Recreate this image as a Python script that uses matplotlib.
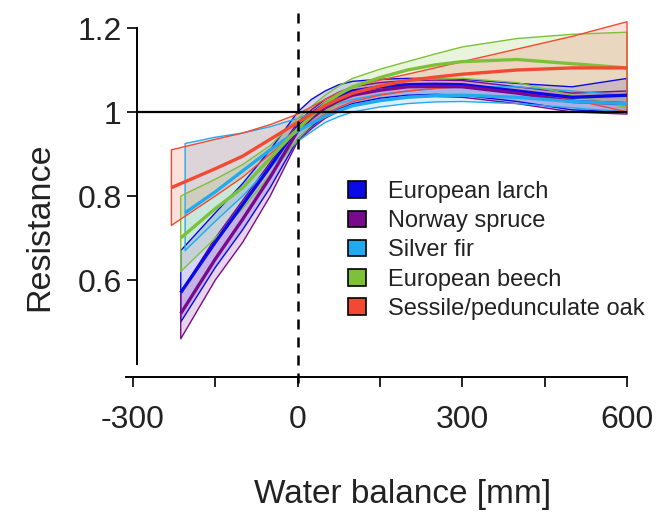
import numpy as np
import matplotlib
matplotlib.use('Agg')
import matplotlib.pyplot as plt
import matplotlib.patches as mpl_patches

plt.rcParams['font.family'] = ['Liberation Sans', 'DejaVu Sans']

species = ['European larch', 'Norway spruce', 'Silver fir', 'European beech',
           'Sessile/pedunculate oak']
colors = ['#0a0ae6', '#7a0a8c', '#22aaee', '#7dc13a', '#f24a32']

# water balance [mm] and resistance (lower / mean / upper) per species
wb_larch = [-213, -150, -100, -50, 0, 25, 50, 75, 100, 150, 200, 250, 300, 400, 500, 600]
larch_lo = [0.50, 0.63, 0.72, 0.82, 0.935, 0.965, 0.99, 1.007, 1.02, 1.033, 1.04, 1.042, 1.04, 1.025, 1.005, 1.00]
larch_mid = [0.57, 0.69, 0.78, 0.87, 0.965, 0.995, 1.02, 1.038, 1.05, 1.06, 1.065, 1.066, 1.065, 1.05, 1.035, 1.04]
larch_hi = [0.67, 0.76, 0.83, 0.91, 1.00, 1.03, 1.05, 1.065, 1.073, 1.078, 1.08, 1.08, 1.078, 1.068, 1.06, 1.08]

wb_spruce = [-213, -150, -100, -50, 0, 25, 50, 75, 100, 150, 200, 250, 300, 400, 500, 600]
spruce_lo = [0.46, 0.60, 0.69, 0.80, 0.93, 0.96, 0.985, 1.002, 1.015, 1.028, 1.035, 1.037, 1.035, 1.02, 1.00, 0.995]
spruce_mid = [0.52, 0.65, 0.745, 0.845, 0.955, 0.985, 1.01, 1.027, 1.04, 1.052, 1.06, 1.061, 1.06, 1.045, 1.025, 1.02]
spruce_hi = [0.57, 0.70, 0.79, 0.88, 0.975, 1.005, 1.03, 1.047, 1.06, 1.07, 1.075, 1.076, 1.075, 1.06, 1.045, 1.05]

wb_fir = [-205, -150, -100, -50, 0, 25, 50, 75, 100, 150, 200, 250, 300, 400, 500, 600]
fir_lo = [0.67, 0.74, 0.80, 0.87, 0.93, 0.953, 0.975, 0.989, 1.00, 1.012, 1.02, 1.024, 1.025, 1.02, 1.01, 1.00]
fir_mid = [0.76, 0.81, 0.86, 0.91, 0.955, 0.973, 0.99, 1.003, 1.015, 1.027, 1.035, 1.039, 1.04, 1.035, 1.025, 1.02]
fir_hi = [0.925, 0.94, 0.95, 0.965, 0.985, 0.997, 1.01, 1.02, 1.03, 1.042, 1.05, 1.056, 1.06, 1.06, 1.05, 1.04]

wb_beech = [-213, -150, -100, -50, 0, 25, 50, 75, 100, 150, 200, 250, 300, 400, 500, 600]
beech_lo = [0.62, 0.70, 0.77, 0.85, 0.935, 0.968, 1.00, 1.022, 1.04, 1.06, 1.075, 1.079, 1.08, 1.07, 1.04, 1.01]
beech_mid = [0.70, 0.77, 0.82, 0.89, 0.96, 0.99, 1.02, 1.042, 1.06, 1.082, 1.10, 1.112, 1.12, 1.125, 1.115, 1.105]
beech_hi = [0.80, 0.84, 0.875, 0.92, 0.985, 1.013, 1.04, 1.062, 1.08, 1.102, 1.12, 1.138, 1.155, 1.175, 1.185, 1.19]

wb_oak = [-230, -150, -100, -50, 0, 25, 50, 75, 100, 150, 200, 250, 300, 400, 500, 600]
oak_lo = [0.73, 0.80, 0.845, 0.90, 0.955, 0.975, 0.995, 1.011, 1.025, 1.04, 1.05, 1.056, 1.06, 1.05, 1.03, 1.00]
oak_mid = [0.82, 0.865, 0.895, 0.935, 0.975, 0.995, 1.015, 1.031, 1.045, 1.062, 1.075, 1.083, 1.09, 1.10, 1.105, 1.105]
oak_hi = [0.91, 0.935, 0.95, 0.97, 0.995, 1.012, 1.03, 1.046, 1.06, 1.076, 1.09, 1.105, 1.12, 1.15, 1.18, 1.215]

series = [
    (wb_larch, larch_lo, larch_mid, larch_hi),
    (wb_spruce, spruce_lo, spruce_mid, spruce_hi),
    (wb_fir, fir_lo, fir_mid, fir_hi),
    (wb_beech, beech_lo, beech_mid, beech_hi),
    (wb_oak, oak_lo, oak_mid, oak_hi),
]

x_ticks = [-300, -150, 0, 150, 300, 450, 600]
x_ticklabels = ['-300', '', '0', '', '300', '', '600']
y_ticks = [0.6, 0.8, 1.0, 1.2]
y_ticklabels = ['0.6', '0.8', '1', '1.2']

W, H = 669, 516
fig = plt.figure(figsize=(W / 100, H / 100), dpi=100)
ax = fig.add_axes([122 / W, 1 - 385 / H, 510.5 / W, 378 / H])
ax.set_xlim(-320, 610)
ax.set_ylim(0.35, 1.25)

for (x, lo, mid, hi), c in zip(series, colors):
    ax.fill_between(x, lo, hi, facecolor=c, alpha=0.17, lw=0, zorder=2)
    ax.fill_between(x, lo, hi, facecolor='none', edgecolor=c, lw=1.0, zorder=3)
    ax.plot(x, mid, color=c, lw=2.4, zorder=4, solid_capstyle='butt')

ax.hlines(1.0, -293, 600, color='black', lw=1.6, zorder=6)
ax.vlines(0, 0.355, 1.238, color='black', lw=1.8, linestyle=(0, (4, 3.2)),
          zorder=6, clip_on=False)

for side in ['top', 'right']:
    ax.spines[side].set_visible(False)
ax.spines['left'].set_position(('data', -293))
ax.spines['left'].set_bounds(0.4, 1.2)
ax.spines['bottom'].set_position(('data', 0.369))
ax.spines['bottom'].set_bounds(-313, 600)
for side in ['left', 'bottom']:
    ax.spines[side].set_linewidth(1.4)

ax.set_xticks(x_ticks)
ax.set_xticklabels(x_ticklabels)
ax.set_yticks(y_ticks)
ax.set_yticklabels(y_ticklabels)
ax.tick_params(axis='both', direction='out', length=7, width=1.4, labelsize=23,
               colors='#222222')
ax.tick_params(axis='x', pad=13)
ax.tick_params(axis='y', pad=4)

ax.set_xlabel('Water balance [mm]', fontsize=24, color='#222222')
ax.xaxis.label.set_verticalalignment('center')
ax.xaxis.set_label_coords((403 - 122) / 510.5, -(495 - 385) / 378)
ax.set_ylabel('Resistance', fontsize=24.5, color='#222222')
ax.yaxis.label.set_verticalalignment('center')
ax.yaxis.set_label_coords((40 - 122) / 510.5, (385 - 227) / 378)

handles = [mpl_patches.Patch(facecolor=c, edgecolor='black', lw=1.2) for c in colors]
ax.legend(handles, species, loc='upper left', bbox_to_anchor=(348 / W, 1 - 181 / H),
          bbox_transform=fig.transFigure, fontsize=17, labelspacing=0.305,
          handlelength=0.78, handleheight=0.7, handletextpad=0.9,
          borderpad=0, borderaxespad=0, frameon=False, labelcolor='#222222')

fig.savefig('out.png', dpi=100)
